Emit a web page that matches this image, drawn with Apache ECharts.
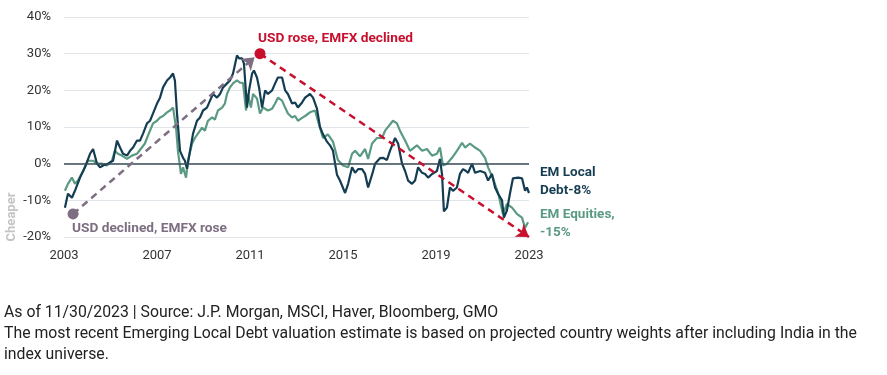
<!DOCTYPE html>
<html lang="en">
<head>
<meta charset="UTF-8">
<title>EM valuation</title>
<script src="https://cdn.jsdelivr.net/npm/echarts@6/dist/echarts.min.js"></script>
<style>
  html, body { margin: 0; padding: 0; background: #fff; }
  #main { width: 887px; height: 375px; }
</style>
</head>
<body>
<div id="main"></div>
<script>
// values: [year, % vs fair value]
var emLocalDebt = [
  [2003.04,-12],[2003.17,-8.2],[2003.34,-9.3],[2003.47,-7.4],[2003.69,-3.8],[2003.90,-1],[2004.12,2.7],[2004.25,4],
  [2004.42,0],[2004.55,-1],[2004.68,-0.5],[2004.89,0],[2005.11,0.8],[2005.28,6.3],[2005.41,4.4],[2005.54,2.7],
  [2005.71,2.2],[2005.84,3.5],[2005.97,4.4],[2006.14,6.3],[2006.27,6.3],[2006.40,8.2],[2006.57,11],[2006.70,11.7],
  [2006.83,13.7],[2007.00,16.4],[2007.13,18],[2007.26,20.8],[2007.43,22.7],[2007.56,23.5],[2007.69,24.6],[2007.77,22.7],
  [2007.86,13.7],[2007.99,3.5],[2008.12,1.6],[2008.20,0.8],[2008.29,-1.4],[2008.42,3.5],[2008.55,8.2],[2008.72,11.7],
  [2008.85,12.6],[2008.98,14.5],[2009.15,15.3],[2009.28,17.2],[2009.41,19],[2009.58,18],[2009.71,19],[2009.84,20.8],
  [2010.01,21.9],[2010.14,22.7],[2010.27,24.6],[2010.44,29.5],[2010.53,28.7],[2010.66,28.7],[2010.74,27.3],[2010.87,15.3],
  [2010.96,20],[2011.09,24.6],[2011.17,25.4],[2011.30,23.5],[2011.39,20.8],[2011.52,15.3],[2011.65,20],[2011.77,19],
  [2011.95,20],[2012.08,21.9],[2012.20,23.5],[2012.38,23.5],[2012.51,20],[2012.63,19],[2012.81,16.4],[2012.94,16.7],
  [2013.06,15.3],[2013.24,16.7],[2013.37,18],[2013.58,19],[2013.71,18],[2013.88,15],[2014.01,10],[2014.14,8],
  [2014.31,6],[2014.44,5],[2014.57,3.5],[2014.66,0],[2014.74,-3],[2014.87,-4.6],[2015.09,-8],[2015.22,-5.5],
  [2015.39,-1],[2015.52,-2.5],[2015.65,-1.5],[2015.82,-1.5],[2015.95,-2.8],[2016.08,-6.5],[2016.25,-3],[2016.38,0],
  [2016.59,1.5],[2016.72,1.6],[2016.89,1],[2017.02,3.5],[2017.24,7],[2017.37,5.5],[2017.54,0],[2017.67,-2],
  [2017.80,-4.6],[2017.97,-5.5],[2018.10,-4.6],[2018.23,-1],[2018.40,-2.5],[2018.53,-2.8],[2018.66,-3.8],[2018.83,-2.8],
  [2019.04,-2],[2019.17,1.3],[2019.26,-3],[2019.34,-13],[2019.47,-12],[2019.60,-6.5],[2019.73,-7.4],[2019.90,-6.5],
  [2020.03,-2.8],[2020.16,-1.5],[2020.29,-2],[2020.38,-2.5],[2020.55,0],[2020.68,-2.5],[2020.90,-2],[2021.11,-2.5],
  [2021.24,-4.6],[2021.41,-2.8],[2021.54,-6.5],[2021.67,-8.2],[2021.84,-10],[2021.92,-14.7],[2022.05,-12.8],[2022.18,-8.2],
  [2022.31,-4],[2022.53,-3.8],[2022.70,-4],[2022.83,-7.4],[2022.91,-6.5],[2023.00,-8]
];
var emEquities = [
  [2003.04,-7.4],[2003.17,-5.5],[2003.34,-3.8],[2003.47,-5.5],[2003.60,-4.6],[2003.82,-2],[2004.03,0.8],[2004.25,0.8],
  [2004.42,0],[2004.63,0],[2004.85,-0.5],[2005.06,0.8],[2005.19,3.5],[2005.32,2.7],[2005.49,2.2],[2005.71,1.3],
  [2005.92,2.2],[2006.14,2.7],[2006.35,4.4],[2006.48,5.5],[2006.57,7],[2006.70,9],[2006.83,11],[2007.00,11.7],
  [2007.13,12.6],[2007.26,13],[2007.43,14],[2007.56,14.5],[2007.69,15.3],[2007.82,9.8],[2007.90,3.5],[2008.03,-2.8],
  [2008.12,-1],[2008.25,-3.8],[2008.33,0.8],[2008.51,5.5],[2008.63,7],[2008.76,8.2],[2008.94,9.8],[2009.06,9],
  [2009.19,11.7],[2009.37,12.6],[2009.49,12],[2009.62,14.5],[2009.80,15.3],[2009.92,16.4],[2010.01,19],[2010.14,20.8],
  [2010.27,21.9],[2010.44,22.7],[2010.57,22.1],[2010.70,22],[2010.83,14.5],[2010.91,19],[2011.04,15.3],[2011.13,19],
  [2011.30,17.8],[2011.43,13.7],[2011.56,15.3],[2011.77,14.5],[2011.95,15],[2012.08,16.4],[2012.20,18],[2012.38,17.2],
  [2012.51,15.3],[2012.63,13.7],[2012.81,12.6],[2012.94,13],[2013.06,11.7],[2013.24,12.5],[2013.37,13],[2013.58,14],
  [2013.80,14.5],[2013.92,11.7],[2014.14,7],[2014.35,8],[2014.57,6],[2014.78,1],[2015.00,-0.5],[2015.22,-1],
  [2015.39,2.7],[2015.52,3.5],[2015.73,2],[2015.95,4],[2016.08,1.3],[2016.25,5.5],[2016.46,7],[2016.68,7],
  [2016.81,9],[2016.89,9],[2017.15,11.7],[2017.32,11],[2017.45,9],[2017.67,6.3],[2017.88,3.5],[2018.18,5],
  [2018.40,3.5],[2018.61,4],[2018.83,2.2],[2019.04,2.7],[2019.17,4.4],[2019.30,-0.5],[2019.47,0],[2019.69,1.6],
  [2019.90,3.5],[2020.12,5.7],[2020.25,4.4],[2020.46,5.5],[2020.68,4.4],[2020.90,3.5],[2021.11,1.6],[2021.24,-1],
  [2021.45,-4],[2021.67,-8],[2021.88,-13.7],[2022.05,-11],[2022.27,-12],[2022.48,-13.7],[2022.70,-14.7],[2022.83,-17.5],
  [2022.96,-16]
];
var usdDeclinedArrow = [[2003.39, -13.7], [2011.2, 29]];
var usdRoseArrow = [[2011.43, 30], [2023.0, -20]];
var xTickLabels = [2003, 2007, 2011, 2015, 2019, 2023];

var NAVY = '#143d52';
var GREEN = '#5b9a82';
var RED = '#c8102e';
var PURPLE = '#7d6e82';
var FONT = 'Roboto';

var myChart = echarts.init(document.getElementById('main'));

var option = {
    animation: false,
    backgroundColor: '#fff',
    grid: { left: 64, right: 358, top: 17, bottom: 138 },
    xAxis: {
        type: 'value',
        min: 2003,
        max: 2023,
        axisLine: { show: false },
        axisTick: { show: false },
        splitLine: { show: false },
        axisLabel: {
            customValues: xTickLabels,
            formatter: function (v) { return String(v); },
            color: '#333', fontFamily: FONT, fontSize: 13, margin: 12
        }
    },
    yAxis: {
        type: 'value',
        min: -20,
        max: 40,
        interval: 10,
        axisLine: { show: false },
        axisTick: { show: false },
        splitLine: { lineStyle: { color: '#dfe5e9', width: 1 } },
        axisLabel: {
            formatter: '{value}%',
            color: '#333', fontFamily: FONT, fontSize: 13, margin: 13
        }
    },
    series: [
        {
            name: 'EM Equities',
            type: 'line',
            data: emEquities,
            showSymbol: false,
            lineStyle: { color: GREEN, width: 2.2 },
            markLine: {
                silent: true,
                symbol: 'none',
                label: { show: false },
                lineStyle: { color: '#3a4c57', width: 1.6, type: 'solid' },
                data: [{ yAxis: 0 }]
            }
        },
        {
            name: 'EM Local Debt',
            type: 'line',
            data: emLocalDebt,
            showSymbol: false,
            lineStyle: { color: NAVY, width: 2.2 }
        },
        {
            type: 'line',
            data: [],
            markLine: {
                silent: true,
                animation: false,
                label: { show: false },
                data: [
                    [
                        { coord: usdDeclinedArrow[0], symbol: 'circle', symbolSize: 11,
                          lineStyle: { color: PURPLE, width: 2.5, type: [7, 5] }, itemStyle: { color: PURPLE } },
                        { coord: usdDeclinedArrow[1], symbol: 'arrow', symbolSize: 12 }
                    ],
                    [
                        { coord: usdRoseArrow[0], symbol: 'circle', symbolSize: 11,
                          lineStyle: { color: RED, width: 2.5, type: [7, 5] }, itemStyle: { color: RED } },
                        { coord: usdRoseArrow[1], symbol: 'arrow', symbolSize: 12 }
                    ]
                ]
            }
        }
    ],
    graphic: [
        { type: 'text', left: 258, top: 32, style: { text: 'USD rose, EMFX declined', fill: RED, font: 'bold 13.7px ' + FONT } },
        { type: 'text', left: 72, top: 222, style: { text: 'USD declined, EMFX rose', fill: PURPLE, font: 'bold 13.7px ' + FONT } },
        { type: 'text', left: 540, top: 164, style: { text: 'EM Local\nDebt-8%', fill: NAVY, font: 'bold 13.5px ' + FONT, lineHeight: 18 } },
        { type: 'text', left: 540, top: 206, style: { text: 'EM Equities,\n-15%', fill: GREEN, font: 'bold 13.5px ' + FONT, lineHeight: 18 } },
        { type: 'text', x: 12, y: 217, rotation: Math.PI / 2,
          style: { text: 'Cheaper', fill: '#c4c4c4', font: 'bold 13px ' + FONT, align: 'center', verticalAlign: 'middle' } },
        { type: 'text', left: 4, top: 303,
          style: { text: 'As of 11/30/2023 | Source: J.P. Morgan, MSCI, Haver, Bloomberg, GMO\nThe most recent Emerging Local Debt valuation estimate is based on projected country weights after including India in the\nindex universe.',
                   fill: '#222', font: '15.8px ' + FONT, lineHeight: 20.8 } }
    ]
};

myChart.setOption(option);
</script>
</body>
</html>
